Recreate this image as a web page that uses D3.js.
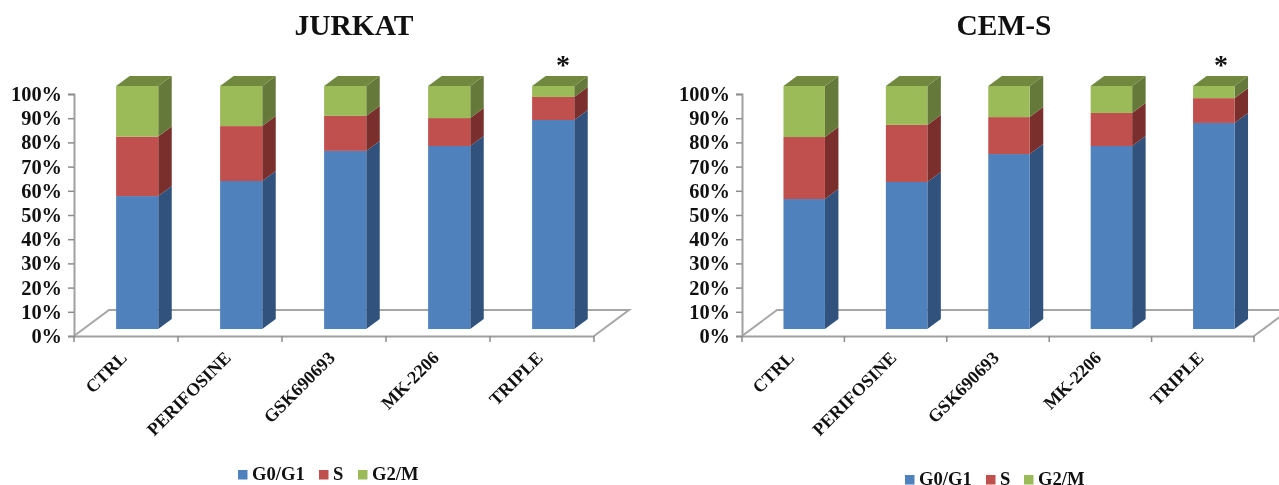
<!DOCTYPE html>
<html>
<head>
<meta charset="utf-8">
<script src="https://cdn.jsdelivr.net/npm/d3@7"></script>
<style>
  html, body { margin: 0; padding: 0; background: #fff; overflow: hidden; }
  svg { display: block; filter: blur(0.4px); }
  text { font-family: "Liberation Serif", serif; font-weight: bold; fill: #111; }
  .tick text { font-size: 20.4px; }
</style>
</head>
<body>
<div id="chart"></div>
<script>
var svgWidth = 1279;
var svgHeight = 485;

var categories = ["CTRL", "PERIFOSINE", "GSK690693", "MK-2206", "TRIPLE"];
var phases = ["G0/G1", "S", "G2/M"];
var yTicks = [0, 10, 20, 30, 40, 50, 60, 70, 80, 90, 100];

// percent of cells in each phase
var jurkatG0 = [54.7, 60.9, 73.3, 75.3, 86.0];
var jurkatS = [24.5, 22.6, 14.4, 11.5, 9.5];
var jurkatG2 = [20.8, 16.5, 12.3, 13.2, 4.5];

var cemG0 = [53.5, 60.5, 72.0, 75.3, 84.8];
var cemS = [25.5, 23.5, 15.2, 13.6, 10.2];
var cemG2 = [21.0, 16.0, 12.8, 11.1, 5.0];

var colors = ["#4f81bd", "#c0504d", "#9bbb59"];
var sideColors = ["#30527c", "#7b2f2d", "#657a3a"];
var topColor = "#71893f";

var svg = d3.select("#chart")
  .append("svg")
  .attr("width", svgWidth)
  .attr("height", svgHeight);

// draws one 3d stacked panel
function drawPanel(opts) {
  var g = svg.append("g");

  var xScale = d3.scaleBand()
    .domain(categories)
    .range([opts.left, opts.right]);

  var yScale = d3.scaleLinear()
    .domain([0, 100])
    .range([336, 94]);

  // same scale shifted onto the bar front plane
  var barY = d3.scaleLinear()
    .domain([0, 100])
    .range([329, 86]);

  var depthX = opts.depthX;

  // floor
  g.append("path")
    .attr("d", d3.line()([
      [opts.left, 336],
      [opts.left + 35, 310],
      [opts.right + 35, 310],
      [opts.right, 336]
    ]))
    .attr("fill", "none")
    .attr("stroke", "#a6a6a6")
    .attr("stroke-width", 2);

  var yAxis = g.append("g")
    .attr("transform", `translate(${opts.left}, 0)`)
    .call(d3.axisLeft(yScale).tickValues(yTicks).tickFormat(d => d + "%").tickSize(6).tickPadding(6));

  var xAxis = g.append("g")
    .attr("transform", "translate(0, 336)")
    .call(d3.axisBottom(xScale).tickSize(0).tickFormat(""));

  g.selectAll(".domain")
    .attr("stroke", "#a0a0a0")
    .attr("stroke-width", 2);
  g.selectAll(".tick line")
    .attr("stroke", "#8c8c8c")
    .attr("stroke-width", 1.5);

  // category separators under the axis
  g.selectAll(".sep")
    .data(categories.concat([null]))
    .enter()
    .append("line")
    .attr("x1", (d, i) => opts.left + i * xScale.step())
    .attr("x2", (d, i) => opts.left + i * xScale.step())
    .attr("y1", 336)
    .attr("y2", 342)
    .attr("stroke", "#8c8c8c")
    .attr("stroke-width", 1.5);

  var rows = categories.map(function(c, i) {
    return { cat: c, g0: opts.g0[i], s: opts.s[i], g2: opts.g2[i] };
  });
  var stacked = d3.stack().keys(["g0", "s", "g2"])(rows);

  var barW = xScale.step() * 0.405;
  var barX = c => xScale(c) + xScale.step() * 0.405;

  stacked.forEach(function(layer, k) {
    var bars = g.append("g").selectAll("g")
      .data(layer)
      .enter()
      .append("g");

    // side face
    bars.append("path")
      .attr("d", function(d) {
        var x1 = barX(d.data.cat) + barW;
        return d3.line()([
          [x1, barY(d[0])],
          [x1 + depthX, barY(d[0]) - 10],
          [x1 + depthX, barY(d[1]) - 10],
          [x1, barY(d[1])]
        ]) + "Z";
      })
      .attr("fill", sideColors[k]);

    bars.append("rect")
      .attr("x", d => barX(d.data.cat))
      .attr("width", barW)
      .attr("y", d => barY(d[1]))
      .attr("height", d => barY(d[0]) - barY(d[1]))
      .attr("fill", colors[k]);

    // top face only on the last layer
    if (k === 2) {
      bars.append("path")
        .attr("d", function(d) {
          var x0 = barX(d.data.cat);
          return d3.line()([
            [x0, barY(100)],
            [x0 + depthX, barY(100) - 10],
            [x0 + barW + depthX, barY(100) - 10],
            [x0 + barW, barY(100)]
          ]) + "Z";
        })
        .attr("fill", topColor);
    }
  });

  // category labels
  g.selectAll(".cat")
    .data(categories)
    .enter()
    .append("text")
    .attr("class", "cat")
    .attr("text-anchor", "end")
    .attr("font-size", 18)
    .attr("transform", d => `translate(${xScale(d) + xScale.step() / 2 + 2}, 359) rotate(-45)`)
    .text(d => d);

  g.append("text")
    .attr("x", opts.titleX)
    .attr("y", 35)
    .attr("text-anchor", "middle")
    .attr("font-size", 29.5)
    .text(opts.title);

  g.append("text")
    .attr("x", opts.starX)
    .attr("y", 74)
    .attr("text-anchor", "middle")
    .attr("font-size", 28)
    .text("*");

  // legend
  var legend = g.selectAll(".leg")
    .data(phases)
    .enter()
    .append("g")
    .attr("transform", (d, i) => `translate(${opts.legendX[i]}, ${opts.legendY})`);
  legend.append("rect")
    .attr("y", -5)
    .attr("width", 9.5)
    .attr("height", 9.5)
    .attr("fill", (d, i) => colors[i]);
  legend.append("text")
    .attr("x", 14)
    .attr("y", 4.5)
    .attr("font-size", 18.6)
    .text(d => d);
}

drawPanel({
  title: "JURKAT", titleX: 354, starX: 563,
  left: 74, right: 594, depthX: 13.5,
  g0: jurkatG0, s: jurkatS, g2: jurkatG2,
  legendX: [238, 319, 358], legendY: 475
});

drawPanel({
  title: "CEM-S", titleX: 1004, starX: 1221,
  left: 742, right: 1254, depthX: 13.5,
  g0: cemG0, s: cemS, g2: cemG2,
  legendX: [905, 986, 1024], legendY: 480
});
</script>
</body>
</html>
